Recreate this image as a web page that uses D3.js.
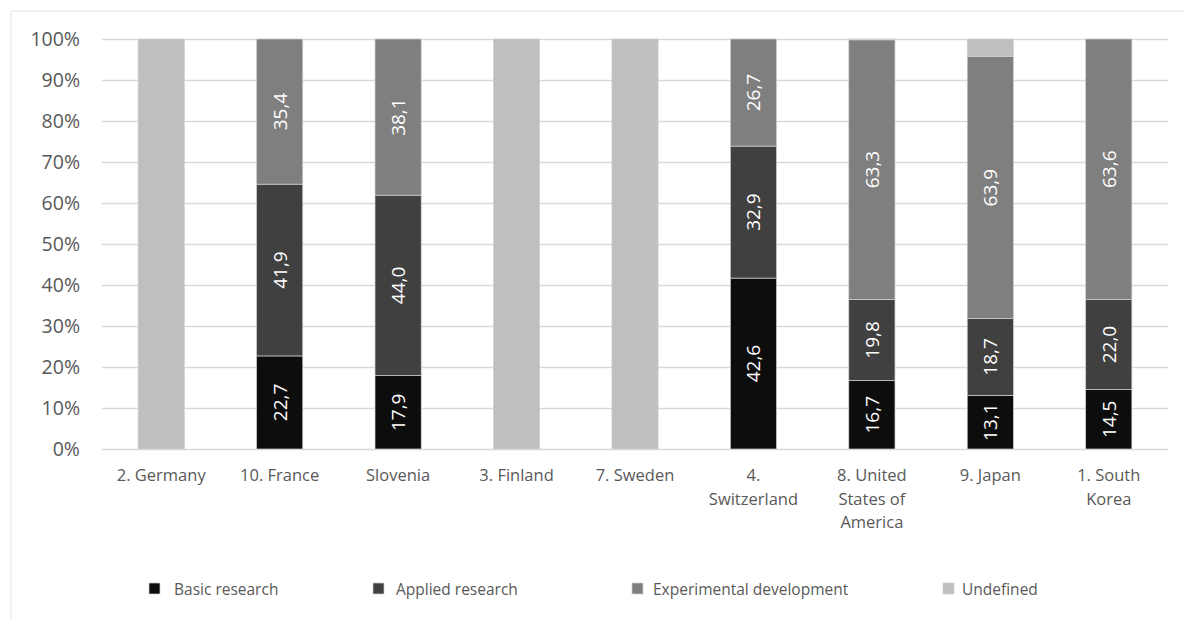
<!DOCTYPE html>
<html>
<head>
<meta charset="utf-8">
<script src="https://cdn.jsdelivr.net/npm/d3@7"></script>
<style>
  html, body { margin: 0; padding: 0; background: #ffffff; }
  svg { display: block; font-family: "Open Sans", "Noto Sans", sans-serif; }
</style>
</head>
<body>
<svg id="chart" width="1183" height="619"></svg>
<script>
// R&D expenditure by type of research, share of total (%)
const categories = [
  "2. Germany", "10. France", "Slovenia", "3. Finland", "7. Sweden",
  "4. Switzerland", "8. United States of America", "9. Japan", "1. South Korea"
];
const basicResearch        = [0,   22.7, 17.9, 0,   0,   42.6, 16.7, 13.1, 14.5];
const appliedResearch      = [0,   41.9, 44.0, 0,   0,   32.9, 19.8, 18.7, 22.0];
const experimentalDev      = [0,   35.4, 38.1, 0,   0,   26.7, 63.3, 63.9, 63.6];
const undefinedShare       = [100, 0,    0,    100, 100, 0,    0.2,  4.3,  0   ];

const seriesNames  = ["Basic research", "Applied research", "Experimental development", "Undefined"];
const seriesKeys   = ["basic", "applied", "experimental", "undefined"];
const seriesColors = ["#0d0d0d", "#404040", "#7f7f7f", "#bfbfbf"];
const yTickValues  = [0, 0.1, 0.2, 0.3, 0.4, 0.5, 0.6, 0.7, 0.8, 0.9, 1.0];

const rows = categories.map((c, i) => ({
  category: c,
  basic: basicResearch[i],
  applied: appliedResearch[i],
  experimental: experimentalDev[i],
  undefined: undefinedShare[i]
}));

const svg = d3.select("#chart");

// outer frame (top and left edges)
svg.append("line").attr("x1", 10).attr("x2", 1183).attr("y1", 11).attr("y2", 11)
  .attr("stroke", "#ececec").attr("stroke-width", 1.5);
svg.append("line").attr("x1", 11).attr("x2", 11).attr("y1", 11).attr("y2", 619)
  .attr("stroke", "#ececec").attr("stroke-width", 1.5);

const plot = { left: 102, right: 1168, top: 39, bottom: 449 };

const x = d3.scaleBand()
  .domain(categories)
  .range([plot.left, plot.right])
  .paddingInner(0.61)
  .paddingOuter(0.305);

const y = d3.scaleLinear().domain([0, 1]).range([plot.bottom, plot.top]);

const color = d3.scaleOrdinal().domain(seriesKeys).range(seriesColors);

// 100% stacked layout
const stacked = d3.stack().keys(seriesKeys).offset(d3.stackOffsetExpand)(rows);

// gridlines + y axis labels
const yAxis = d3.axisLeft(y)
  .tickValues(yTickValues)
  .tickFormat(d3.format(".0%"))
  .tickSize(-(plot.right - plot.left))
  .tickPadding(22);

const yg = svg.append("g")
  .attr("transform", `translate(${plot.left},0)`)
  .call(yAxis);
yg.select(".domain").remove();
yg.selectAll(".tick line").attr("stroke", "#d9d9d9").attr("stroke-width", 1.6);
yg.selectAll(".tick text")
  .attr("fill", "#595959")
  .attr("font-size", 19.5)
  .attr("font-family", "Open Sans, sans-serif");

// bars
const layers = svg.append("g")
  .selectAll("g")
  .data(stacked)
  .join("g")
  .attr("fill", d => color(d.key));

layers.selectAll("rect")
  .data(d => d.map(p => ({ key: d.key, p })))
  .join("rect")
  .filter(d => d.p[1] - d.p[0] > 0)
  .attr("x", d => x(d.p.data.category))
  .attr("width", x.bandwidth())
  .attr("y", d => y(d.p[1]))
  .attr("height", d => y(d.p[0]) - y(d.p[1]))
  .attr("stroke", "#d0d0d0")
  .attr("stroke-width", 0.7);

// value labels inside the research segments
const fmt = v => v.toFixed(1).replace(".", ",");
const labelled = stacked.filter(s => s.key !== "undefined");
svg.append("g")
  .selectAll("g")
  .data(labelled)
  .join("g")
  .selectAll("text")
  .data(d => d.filter(p => p.data[d.key] > 0).map(p => ({ key: d.key, p })))
  .join("text")
  .attr("transform", d => {
    const cx = x(d.p.data.category) + x.bandwidth() / 2;
    const cy = (y(d.p[0]) + y(d.p[1])) / 2;
    return `translate(${cx},${cy}) rotate(-90)`;
  })
  .attr("text-anchor", "middle")
  .attr("dominant-baseline", "central")
  .attr("fill", "#ffffff")
  .attr("font-size", 19)
  .text(d => fmt(d.p.data[d.key]));

// category labels, wrapped to the band
const xg = svg.append("g");
const maxLine = 100;
categories.forEach(cat => {
  const cx = x(cat) + x.bandwidth() / 2;
  const t = xg.append("text")
    .attr("text-anchor", "middle")
    .attr("fill", "#595959")
    .attr("font-size", 16.5);
  const words = cat.split(" ");
  let lines = [];
  let current = [];
  const probe = t.append("tspan");
  words.forEach(w => {
    const trial = current.concat(w).join(" ");
    probe.text(trial);
    if (probe.node().getComputedTextLength() > maxLine && current.length) {
      lines.push(current.join(" "));
      current = [w];
    } else {
      current.push(w);
    }
  });
  lines.push(current.join(" "));
  probe.remove();
  lines.forEach((ln, i) => {
    t.append("tspan")
      .attr("x", cx)
      .attr("y", 481 + i * 23.5)
      .text(ln);
  });
});

// legend
const legendX = [149, 373, 632, 943];
const legend = svg.append("g");
seriesNames.forEach((name, i) => {
  const g = legend.append("g").attr("transform", `translate(${legendX[i]},583)`);
  g.append("rect")
    .attr("width", 11).attr("height", 11)
    .attr("fill", seriesColors[i])
    .attr("stroke", "#d0d0d0").attr("stroke-width", 0.7);
  g.append("text")
    .attr("x", 25 - i * 2)
    .attr("y", 6)
    .attr("dominant-baseline", "central")
    .attr("fill", "#595959")
    .attr("font-size", 15.5)
    .text(name);
});
</script>
</body>
</html>
